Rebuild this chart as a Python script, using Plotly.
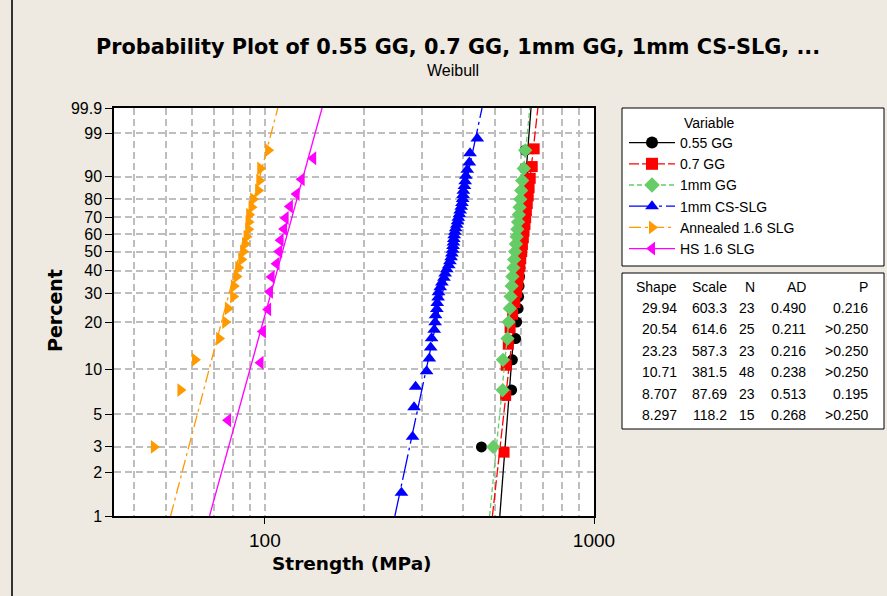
import numpy as np
import plotly.graph_objects as go

# ---------------- data ----------------
variables = ["0.55 GG", "0.7 GG", "1mm GG", "1mm CS-SLG", "Annealed 1.6 SLG", "HS 1.6 SLG"]

strength_055gg = [455, 562, 565, 578, 582, 588, 590, 592, 594, 596, 597, 599, 600, 602, 604,
                  605, 607, 608, 610, 611, 613, 615, 618]
strength_07gg = [533, 539, 541, 549, 556, 566, 575, 582, 587, 591, 595, 599, 603, 606, 610,
                 613, 617, 620, 623, 627, 631, 635, 640, 649, 658]
strength_1mmgg = [494, 528, 529, 546, 550, 555, 558, 562, 565, 569, 572, 576, 579, 582, 585,
                  588, 591, 594, 597, 601, 605, 612, 618]
strength_cs_slg = [260, 281, 284, 287, 310, 316, 319, 321, 327, 329,
                   330, 333, 334, 336, 337, 341, 345, 350, 353, 357,
                   362, 365, 368, 370, 372, 373, 374, 375, 376, 378,
                   380, 383, 385, 387, 390, 392, 395, 397, 399, 400,
                   401, 404, 406, 408, 412, 418, 420, 442]
strength_annealed = [46.0, 55.4, 61.3, 72.6, 75.8, 77.2, 80.1, 80.5, 82.0, 83.0, 84.8, 85.9,
                     87.0, 88.0, 89.0, 89.2, 89.6, 91.1, 92.1, 95.4, 96.2, 96.8, 102.3]
strength_hs = [77.3, 97.0, 98.6, 102.3, 103.6, 104.8, 108.5, 110.5, 111.6, 114.4, 115.6,
               119.1, 124.8, 129.3, 140.2]

shape = [29.94, 20.54, 23.23, 10.71, 8.707, 8.297]
scale = [603.3, 614.6, 587.3, 381.5, 87.69, 118.2]
n_obs = [23, 25, 23, 48, 23, 15]
ad_stat = ["0.490", "0.211", "0.216", "0.238", "0.513", "0.268"]
p_value = ["0.216", ">0.250", ">0.250", ">0.250", "0.195", ">0.250"]

pct_ticks = [1, 2, 3, 5, 10, 20, 30, 40, 50, 60, 70, 80, 90, 99, 99.9]
pct_labels = ["1", "2", "3", "5", "10", "20", "30", "40", "50", "60", "70", "80", "90", "99", "99.9"]
x_major = [100, 1000]
x_major_labels = ["100", "1000"]
x_minor = [40, 50, 60, 70, 80, 90, 200, 300, 400, 500, 600, 700, 800, 900]
x_min = 34.8
x_max = 1000

strengths = [strength_055gg, strength_07gg, strength_1mmgg, strength_cs_slg,
             strength_annealed, strength_hs]

# ---------------- style ----------------
colors = ["#000000", "#FF0000", "#66CC66", "#0000FF", "#FF9900", "#FF00FF"]
symbols = ["circle", "square", "diamond", "triangle-up", "triangle-right", "triangle-left"]
msizes = [11, 11, 11, 12, 12, 12]
dashes = ["solid", "10px,3px", "5px,3px", "26px,4px,3px,4px", "12px,4px,3px,4px", "solid"]
BEIGE = "#EEEAE1"
GRID = "#BEBEBE"
FONT_R = "Liberation Sans"
FONT_B = "DejaVu Sans"


def weib(p):
    p = np.asarray(p, dtype=float) / 100.0
    return np.log(-np.log(1.0 - p))


W, H = 887, 596
L, R, T, B = 114, 594, 108, 516


def px(x):
    return (x - L) / (R - L)


def py(y):
    return (B - y) / (B - T)


fig = go.Figure()

for k, name in enumerate(variables):
    vals = np.sort(np.asarray(strengths[k], dtype=float))
    n = len(vals)
    ranks = np.arange(1, n + 1)
    pct = (ranks - 0.3) / (n + 0.4) * 100.0
    fig.add_trace(go.Scatter(
        x=vals, y=weib(pct), mode="markers", showlegend=False, legendgroup=name,
        marker=dict(symbol=symbols[k], size=msizes[k], color=colors[k], line=dict(width=0)),
        hoverinfo="skip"))
    pf = np.array([1.0, 99.9])
    xf = scale[k] * np.exp(weib(pf) / shape[k])
    fig.add_trace(go.Scatter(
        x=xf, y=weib(pf), mode="lines", showlegend=False, legendgroup=name,
        line=dict(color=colors[k], width=1.3, dash=dashes[k]), hoverinfo="skip"))

for k, name in enumerate(variables):
    fig.add_trace(go.Scatter(
        x=[None], y=[None], mode="lines+markers", name=name, legendgroup=name,
        marker=dict(symbol=symbols[k], size=12, color=colors[k], line=dict(width=0)),
        line=dict(color=colors[k], width=1.3, dash=dashes[k])))

shapes = [
    dict(type="rect", xref="paper", yref="paper", x0=px(622), x1=px(884), y0=py(266), y1=py(108),
         line=dict(color="black", width=1), fillcolor="white", layer="below"),
    dict(type="rect", xref="paper", yref="paper", x0=px(622), x1=px(884), y0=py(429), y1=py(273),
         line=dict(color="black", width=1), fillcolor="white", layer="below"),
    dict(type="line", xref="paper", yref="paper", x0=px(12), x1=px(12), y0=py(600), y1=py(-5),
         line=dict(color="#333333", width=2)),
]

annotations = [
    dict(text="<b>Probability Plot of 0.55 GG, 0.7 GG, 1mm GG, 1mm CS-SLG, ...</b>",
         xref="paper", yref="paper", x=px(458), y=py(47), showarrow=False,
         font=dict(family=FONT_B, size=20.8, color="black"), xanchor="center", yanchor="middle"),
    dict(text="Weibull", xref="paper", yref="paper", x=px(453), y=py(70), showarrow=False,
         font=dict(family=FONT_R, size=16, color="black"), xanchor="center", yanchor="middle"),
    dict(text="<b>Percent</b>", xref="paper", yref="paper", x=px(55), y=py(311), showarrow=False,
         textangle=-90, font=dict(family=FONT_B, size=19, color="black"),
         xanchor="center", yanchor="middle"),
    dict(text="<b>Strength (MPa)</b>", xref="paper", yref="paper", x=px(352), y=py(563),
         showarrow=False, font=dict(family=FONT_B, size=18.5, color="black"),
         xanchor="center", yanchor="middle"),
    dict(text="Variable", xref="paper", yref="paper", x=px(682), y=py(123), showarrow=False,
         font=dict(family=FONT_R, size=14, color="black"), xanchor="left", yanchor="middle"),
]

# table of fit statistics
col_right = [679, 729, 757, 808, 870]
headers = ["Shape", "Scale", "N", "AD", "P"]
row_y = [287, 307.5, 329, 350.5, 372, 393.5, 415]
for c, h in enumerate(headers):
    annotations.append(dict(text=h, xref="paper", yref="paper", x=px(col_right[c]), y=py(row_y[0]),
                            showarrow=False, xanchor="right", yanchor="middle",
                            font=dict(family=FONT_R, size=14, color="black")))
for r in range(len(variables)):
    cells = [f"{shape[r]:.4g}", f"{scale[r]:.4g}", str(n_obs[r]), ad_stat[r], p_value[r]]
    for c, txt in enumerate(cells):
        annotations.append(dict(text=txt, xref="paper", yref="paper", x=px(col_right[c]),
                                y=py(row_y[r + 1]), showarrow=False, xanchor="right",
                                yanchor="middle",
                                font=dict(family=FONT_R, size=14, color="black")))

fig.update_layout(
    width=W, height=H,
    margin=dict(l=L, r=W - R, t=T, b=H - B, pad=0),
    paper_bgcolor=BEIGE, plot_bgcolor="white",
    font=dict(family=FONT_R, color="black"),
    showlegend=True,
    legend=dict(x=px(624), y=py(127), xanchor="left", yanchor="top",
                bgcolor="rgba(0,0,0,0)", borderwidth=0, itemwidth=46,
                font=dict(family=FONT_R, size=14, color="black"), tracegroupgap=0),
    shapes=shapes, annotations=annotations,
    xaxis=dict(type="log", range=[np.log10(x_min), np.log10(x_max)],
               tickmode="array", tickvals=x_major, ticktext=x_major_labels,
               ticks="outside", ticklen=6, tickcolor="black", tickwidth=1,
               showline=True, linecolor="black", linewidth=1.5, mirror=True,
               showgrid=True, gridcolor=GRID, griddash="7px,4px", gridwidth=1.5,
               tickfont=dict(family=FONT_R, size=19, color="black"),
               minor=dict(tickmode="array", tickvals=x_minor, showgrid=True, gridcolor=GRID,
                          griddash="7px,4px", gridwidth=1.5, ticks=""),
               zeroline=False),
    yaxis=dict(range=[float(weib(1.0)), float(weib(99.9))],
               tickmode="array", tickvals=list(weib(pct_ticks)), ticktext=pct_labels,
               ticks="outside", ticklen=7, tickcolor="black", tickwidth=1,
               showline=True, linecolor="black", linewidth=1.5, mirror=True,
               showgrid=True, gridcolor=GRID, griddash="7px,4px", gridwidth=1.5,
               tickfont=dict(family=FONT_R, size=16, color="black"), zeroline=False),
)

fig.write_html("out.html")
